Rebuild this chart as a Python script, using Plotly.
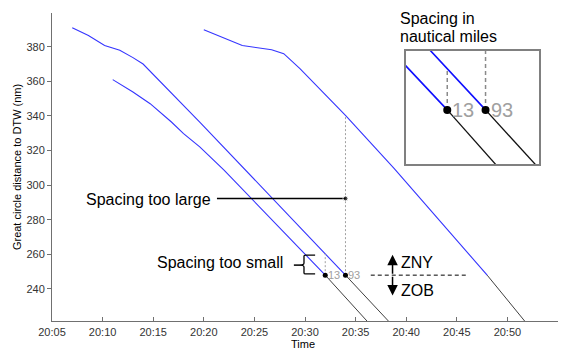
import plotly.graph_objects as go

# ---- data (minutes after 20:00, great-circle distance in nm) ----
flight1_time = [7.0, 8.6, 10.2, 11.7, 13.0, 14.0, 19.6, 34.0, 38.4]
flight1_dist = [391, 386.5, 380.7, 378, 373.7, 370, 336.5, 248, 220.5]
flight1_handover = 7  # index where the flight crosses ZNY->ZOB

flight2_time = [11.0, 13.0, 14.7, 16.8, 18.0, 19.6, 22.0, 32.0, 36.2]
flight2_dist = [361, 353.8, 347.1, 336.5, 329.8, 322.1, 308.7, 248, 221]
flight2_handover = 7

flight3_time = [20.0, 23.8, 26.7, 27.9, 29.5, 34.0, 38.8, 48.0, 51.8]
flight3_dist = [389.8, 380.7, 378.3, 376, 367.3, 340.4, 309.7, 248, 220.8]
flight3_handover = 7

boundary_nm = 248
spacing_time = [32.0, 34.0]
spacing_lower = [248, 248]
spacing_upper = [260.4, 340.4]
spacing_labels = ["13", "93"]

x_tickvals = [5, 10, 15, 20, 25, 30, 35, 40, 45, 50, 55]
x_ticktext = ["20:05", "20:10", "20:15", "20:20", "20:25", "20:30",
              "20:35", "20:40", "20:45", "20:50", "20:55"]
y_tickvals = [240, 260, 280, 300, 320, 340, 360, 380]

FONT = "Arial, Liberation Sans, sans-serif"
BLUE_MAIN = "#3535ff"
BLUE_INSET = "#1010ff"

flights = [
    (flight1_time, flight1_dist, flight1_handover),
    (flight2_time, flight2_dist, flight2_handover),
    (flight3_time, flight3_dist, flight3_handover),
]

fig = go.Figure()


def add_flights(xa, ya, blue, blk, wb, wk):
    for t, d, h in flights:
        fig.add_trace(go.Scatter(x=list(t[:h + 1]), y=list(d[:h + 1]),
                                 mode="lines",
                                 line=dict(color=blue, width=wb),
                                 xaxis=xa, yaxis=ya, hoverinfo="skip"))
        fig.add_trace(go.Scatter(x=list(t[h:]), y=list(d[h:]), mode="lines",
                                 line=dict(color=blk, width=wk),
                                 xaxis=xa, yaxis=ya, hoverinfo="skip"))


def add_spacing(xa, ya, color, width, dash, msize):
    for i in range(len(spacing_time)):
        fig.add_trace(go.Scatter(
            x=[spacing_time[i], spacing_time[i]],
            y=[spacing_lower[i], spacing_upper[i]], mode="lines",
            line=dict(color=color, width=width, dash=dash),
            xaxis=xa, yaxis=ya, hoverinfo="skip"))
    fig.add_trace(go.Scatter(
        x=spacing_time, y=spacing_lower, mode="markers",
        marker=dict(color="#000000", size=msize),
        xaxis=xa, yaxis=ya, hoverinfo="skip"))


add_flights("x", "y", BLUE_MAIN, "#404040", 1.1, 1)
add_spacing("x", "y", "#a0a0a0", 1, "2px,2px", 5)
add_flights("x2", "y2", BLUE_INSET, "#101010", 1.6, 1.3)
add_spacing("x2", "y2", "#8a8a8a", 1.5, "4px,3px", 8)

# "Spacing too large" pointer
fig.add_trace(go.Scatter(x=[21.3, spacing_time[1]], y=[292.3, 292.3],
                         mode="lines+markers",
                         line=dict(color="#000000", width=1.5),
                         marker=dict(color="#000000", size=[0, 5]),
                         hoverinfo="skip"))

shapes = [
    # ZNY / ZOB boundary
    dict(type="line", xref="x", yref="y", x0=36.5, x1=46.1,
         y0=boundary_nm, y1=boundary_nm,
         line=dict(color="#000000", width=1, dash="4px,3px")),
    # dash before brace
    dict(type="line", xref="x", yref="y", x0=28.9, x1=29.55,
         y0=253.8, y1=253.8, line=dict(color="#000000", width=1.5)),
    # brace
    dict(type="path", xref="x", yref="y",
         path="M 31.0 259.6 L 30.05 259.6 Q 29.9 259.6 29.9 259.0 L 29.9 255.0 "
              "Q 29.9 253.8 29.5 253.8 Q 29.9 253.8 29.9 252.6 L 29.9 249.3 "
              "Q 29.9 248.7 30.05 248.7 L 31.0 248.7",
         line=dict(color="#000000", width=1.3)),
]

ann = []


def text(x, y, s, size=16, color="#000000", xanchor="left", xref="x", yref="y",
         angle=0, xshift=0, yanchor="middle"):
    ann.append(dict(x=x, y=y, xref=xref, yref=yref, text=s, showarrow=False,
                    xanchor=xanchor, yanchor=yanchor, textangle=angle,
                    xshift=xshift, borderpad=0,
                    font=dict(family=FONT, size=size, color=color)))


text(8.3, 291.6, "Spacing too large")
text(27.9, 255.2, "Spacing too small", xanchor="right")
text(39.4, 255.6, "ZNY")
text(39.4, 239.4, "ZOB")
for i in range(len(spacing_time)):
    text(spacing_time[i], spacing_lower[i], spacing_labels[i], size=11,
         color="#a0a0a0", xshift=2)
    ann.append(dict(x=spacing_time[i], y=spacing_lower[i], xref="x2", yref="y2",
                    text=spacing_labels[i], showarrow=False, xanchor="left",
                    yanchor="middle", xshift=3,
                    font=dict(family=FONT, size=20, color="#a0a0a0")))
text(0.686, 0.983, "Spacing in", xref="paper", yref="paper")
text(0.686, 0.923, "nautical miles", xref="paper", yref="paper")
text(0.497, -0.0972, "Time", size=11, xanchor="center", xref="paper", yref="paper",
     yanchor="bottom")
text(-0.069, 0.5, "Great circle distance to DTW (nm)", size=11, xanchor="center",
     xref="paper", yref="paper", angle=-90)

# double arrow
for head in (259.8, 236.2):
    ann.append(dict(x=38.65, y=head, ax=38.65, ay=boundary_nm, xref="x", yref="y",
                    axref="x", ayref="y", text="", showarrow=True, arrowhead=2,
                    arrowsize=1.4, arrowwidth=1.5, arrowcolor="#000000"))

axis_color = "#707070"
# the page body keeps an 8px default margin, so the figure is 8px smaller
fig.update_layout(
    width=561, height=343,
    margin=dict(l=44, r=11, t=5, b=30),
    paper_bgcolor="white", plot_bgcolor="white",
    showlegend=False,
    shapes=shapes, annotations=ann,
    xaxis=dict(range=[5, 55], tickvals=x_tickvals, ticktext=x_ticktext,
               showgrid=False, zeroline=False, showline=True,
               linecolor=axis_color, linewidth=1, ticks="inside", ticklen=4,
               tickcolor=axis_color, automargin=False, ticklabelstandoff=1,
               tickfont=dict(family=FONT, size=11, color="#333333")),
    yaxis=dict(range=[221.5, 399.5], tickvals=y_tickvals,
               showgrid=False, zeroline=False, showline=True,
               linecolor=axis_color, linewidth=1, ticks="outside", ticklen=4,
               tickcolor=axis_color, automargin=False,
               tickfont=dict(family=FONT, size=11, color="#333333")),
    xaxis2=dict(domain=[0.699, 0.962], anchor="y2", range=[29.83, 36.78],
                showgrid=False, zeroline=False, showticklabels=False,
                showline=True, mirror=True, linecolor="#808080", linewidth=1.5,
                ticks=""),
    yaxis2=dict(domain=[0.509, 0.878], anchor="x2", range=[231.8, 265.7],
                showgrid=False, zeroline=False, showticklabels=False,
                showline=True, mirror=True, linecolor="#808080", linewidth=1.5,
                ticks=""),
)

fig.write_html("out.html")
